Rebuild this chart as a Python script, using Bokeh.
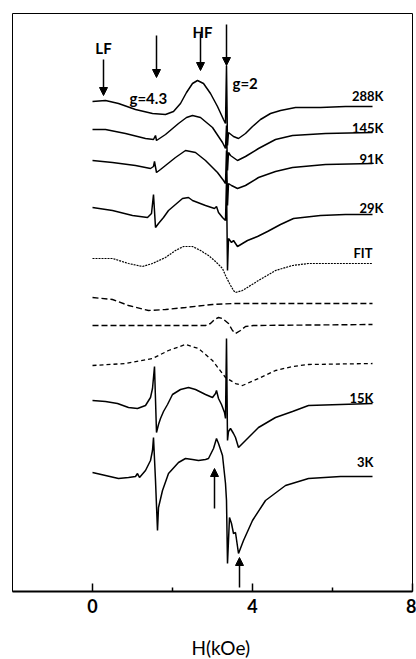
from bokeh.plotting import figure
from bokeh.models import Range1d, FixedTicker, Arrow, NormalHead, Title, ColumnDataSource
from bokeh.embed import file_html
from bokeh.resources import INLINE
from bokeh.core.properties import value

# ---- spectra (x in kOe, y = stacked signal, arbitrary units) ----
x_288 = [0, 0.325, 0.65, 1.075, 1.5, 1.825, 2.025, 2.2, 2.35, 2.5, 2.625, 2.775, 2.95, 3.125, 3.275, 3.325, 3.35, 3.375, 3.4, 3.525, 3.65, 3.825, 4.0, 4.2, 4.45, 4.7, 5.075, 5.7, 6.325, 7.0]
y_288 = [490, 491, 488, 482, 478, 477, 480, 488, 499, 508, 511, 508, 498, 485, 472, 468, 526, 446, 459, 455, 453, 458, 465, 472, 478, 481, 484, 484, 485, 485]

x_145 = [0, 0.325, 0.825, 1.325, 1.525, 1.575, 1.6, 1.825, 2.15, 2.35, 2.5, 2.7, 3.0, 3.25, 3.325, 3.35, 3.375, 3.4, 3.45, 3.625, 3.825, 4.15, 4.575, 5.0, 5.825, 7.0]
y_145 = [462, 462, 458, 453, 452, 456, 451, 457, 468, 474, 476, 474, 464, 449, 443, 466, 421, 439, 436, 431, 435, 443, 452, 456, 458, 459]

x_91 = [0, 0.5, 1.075, 1.45, 1.525, 1.55, 1.6, 1.7, 1.825, 2.075, 2.325, 2.575, 2.825, 3.125, 3.275, 3.325, 3.35, 3.375, 3.4, 3.475, 3.625, 3.825, 4.15, 4.575, 5.0, 5.825, 7.0]
y_91 = [431, 429, 426, 423, 425, 430, 419, 422, 426, 434, 441, 439, 431, 419, 411, 408, 441, 386, 408, 406, 403, 406, 414, 420, 424, 427, 428]

x_29 = [0, 0.5, 1.0, 1.375, 1.475, 1.525, 1.575, 1.65, 1.775, 1.9, 2.075, 2.25, 2.4, 2.5, 2.825, 3.05, 3.1, 3.15, 3.25, 3.325, 3.35, 3.375, 3.4, 3.475, 3.525, 3.625, 3.875, 4.125, 4.375, 4.7, 5.025, 5.7, 6.325, 7.0]
y_29 = [384, 381, 376, 374, 378, 397, 364, 368, 374, 381, 387, 393, 394, 391, 386, 383, 385, 379, 374, 371, 411, 321, 353, 349, 351, 345, 351, 355, 360, 367, 373, 376, 377, 377]

x_fit = [0, 0.5, 0.9, 1.25, 1.5, 1.825, 2.075, 2.275, 2.5, 2.7, 2.9, 3.075, 3.25, 3.325, 3.425, 3.525, 3.575, 3.75, 4.15, 4.575, 5.0, 5.4, 6.2, 7.0]
y_fit = [333, 333, 328, 325, 328, 334, 341, 345, 345, 341, 336, 330, 323, 316, 308, 301, 299, 301, 311, 321, 326, 328, 328, 328]

x_lf = [0, 0.5, 0.9, 1.4, 1.825, 2.325, 3.0, 3.525, 7.0]
y_lf = [294, 292, 286, 281, 282, 284, 287, 288, 288]

x_g2 = [0, 2.825, 2.95, 3.05, 3.15, 3.25, 3.4, 3.5, 3.575, 3.7, 3.825, 4.025, 7.0]
y_g2 = [266, 266, 268, 272, 274, 273, 268, 261, 258, 261, 265, 266, 267]

x_hf = [0, 0.825, 1.5, 1.9, 2.325, 2.65, 3.0, 3.325, 3.575, 3.75, 4.15, 4.575, 5.0, 5.4, 7.0]
y_hf = [226, 228, 233, 241, 247, 243, 231, 214, 208, 206, 213, 221, 225, 227, 228]

x_15 = [0, 0.325, 0.625, 0.9, 1.125, 1.325, 1.45, 1.5, 1.55, 1.6, 1.65, 1.7, 1.775, 1.875, 2.0, 2.2, 2.4, 2.575, 2.825, 3.0, 3.075, 3.1, 3.15, 3.225, 3.3, 3.325, 3.35, 3.375, 3.4, 3.45, 3.525, 3.575, 3.65, 3.825, 4.15, 4.575, 5.0, 5.4, 6.2, 7.0]
y_15 = [191, 190, 188, 184, 183, 186, 194, 203, 225, 159, 167, 173, 180, 187, 197, 202, 204, 202, 197, 194, 198, 201, 193, 187, 179, 173, 253, 151, 160, 163, 158, 154, 144, 151, 164, 174, 180, 186, 187, 188]

x_3 = [0, 0.325, 0.65, 0.9, 1.075, 1.125, 1.175, 1.325, 1.45, 1.5, 1.525, 1.575, 1.625, 1.65, 1.75, 1.9, 2.15, 2.325, 2.5, 2.65, 2.825, 2.9, 3.025, 3.1, 3.15, 3.25, 3.325, 3.35, 3.375, 3.425, 3.475, 3.525, 3.575, 3.65, 3.775, 4.0, 4.325, 4.825, 5.4, 6.2, 7.0]
y_3 = [119, 116, 113, 114, 115, 118, 114, 121, 131, 141, 154, 111, 61, 84, 101, 118, 129, 133, 132, 131, 132, 133, 143, 153, 148, 136, 108, 91, 28, 74, 68, 58, 59, 38, 51, 71, 91, 106, 113, 115, 115]

# ---- curve labels ----
lab_text = ["288K", "145K", "91K", "29K", "FIT", "15K", "3K"]
lab_x = [7.275, 7.275, 7.275, 7.275, 7.0, 7.025, 7.025]
lab_y = [496, 464, 433, 384, 339, 194, 130]

# ---- marker arrows ----
down_x = [0.275, 1.6, 2.7, 3.35]
down_y0 = [532, 556, 558, 567]
down_y1 = [496, 514, 521, 526]
up_x = [3.05, 3.675]
up_y0 = [83, 4]
up_y1 = [123, 34]

ann_text = ["LF", "g=4.3", "HF", "g=2"]
ann_x = [0.275, 0.925, 2.75, 3.5]
ann_y = [544, 494, 560, 509]
ann_align = ["center", "left", "center", "left"]

x_ticks = [0, 4, 8]
x_minor = [2, 6]
x_title = "H(kOe)"

FONT = "Lato"

p = figure(width=416, height=659, x_range=Range1d(-2, 8), y_range=Range1d(0, 578),
           output_backend="svg", toolbar_location=None, y_axis_location=None,
           min_border_left=12, min_border_right=4, min_border_top=13, min_border_bottom=68)
p.grid.visible = False
p.outline_line_color = "black"
p.outline_line_width = 1
p.background_fill_color = "white"
p.border_fill_color = "white"

solid = dict(line_color="black", line_width=1.5)
for xs, ys in [(x_288, y_288), (x_145, y_145), (x_91, y_91), (x_29, y_29), (x_15, y_15), (x_3, y_3)]:
    p.line(xs, ys, **solid)
p.line(x_fit, y_fit, line_color="black", line_width=1.2, line_dash="2 1")
p.line(x_lf, y_lf, line_color="black", line_width=1.4, line_dash="6 3")
p.line(x_g2, y_g2, line_color="black", line_width=1.4, line_dash="6 3")
p.line(x_hf, y_hf, line_color="black", line_width=1.3, line_dash="4 3")

src_lab = ColumnDataSource(dict(x=lab_x, y=lab_y, t=lab_text))
p.text(x="x", y="y", text="t", source=src_lab, text_align="right", text_baseline="alphabetic",
       text_font=value(FONT), text_font_style="bold", text_font_size="13px", text_color="black")

src_ann = ColumnDataSource(dict(x=ann_x, y=ann_y, t=ann_text, a=ann_align))
p.text(x="x", y="y", text="t", source=src_ann, text_align="a", text_baseline="alphabetic",
       text_font=value(FONT), text_font_style="bold", text_font_size="15px", text_color="black")

src_down = ColumnDataSource(dict(x=down_x, y0=down_y0, y1=down_y1))
p.add_layout(Arrow(end=NormalHead(size=8, fill_color="black", line_color="black", line_width=1),
                   x_start="x", y_start="y0", x_end="x", y_end="y1", source=src_down,
                   line_color="black", line_width=1.5))
src_up = ColumnDataSource(dict(x=up_x, y0=up_y0, y1=up_y1))
p.add_layout(Arrow(end=NormalHead(size=8, fill_color="black", line_color="black", line_width=1),
                   x_start="x", y_start="y0", x_end="x", y_end="y1", source=src_up,
                   line_color="black", line_width=1.5))

ax = p.xaxis[0]
ax.ticker = FixedTicker(ticks=x_ticks, minor_ticks=x_minor)
ax.axis_line_width = 2
ax.axis_line_color = "black"
ax.major_tick_in = 8
ax.major_tick_out = 0
ax.minor_tick_in = 4
ax.minor_tick_out = 0
ax.major_tick_line_width = 1.5
ax.minor_tick_line_width = 1.5
ax.major_label_standoff = 7
ax.major_label_text_font = FONT
ax.major_label_text_font_style = "bold"
ax.major_label_text_font_size = "18px"
ax.major_label_text_color = "black"

# small invisible spacer below the axis, then the axis title
p.add_layout(Title(text=" ", text_font_size="1px", standoff=15), "below")
p.add_layout(Title(text=x_title, align="left", offset=179, text_font=FONT, text_font_size="19px",
                   text_font_style="normal", text_color="black", standoff=0), "below")

open("out.html", "w").write(file_html(p, INLINE))
